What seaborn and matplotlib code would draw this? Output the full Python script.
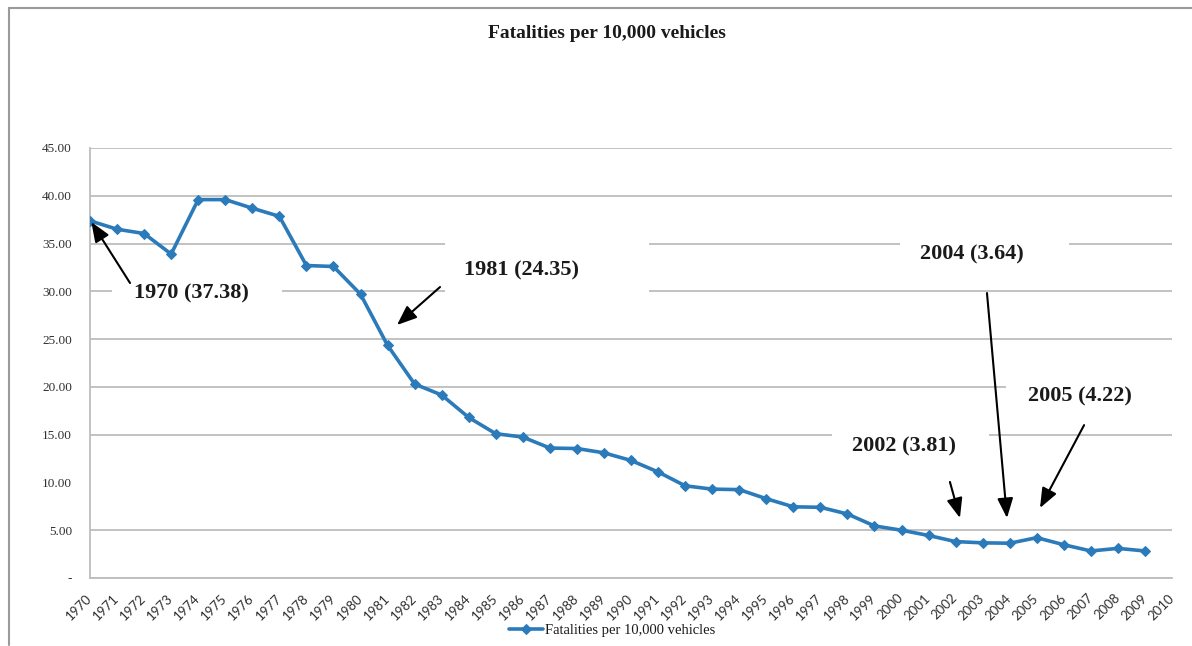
import matplotlib
matplotlib.use("Agg")
import matplotlib.pyplot as plt
from matplotlib.patches import Rectangle
from matplotlib.lines import Line2D
import seaborn as sns
import pandas as pd

# ---------------- data ----------------
years = list(range(1970, 2010))
fatalities = [37.38, 36.50, 36.05, 33.90, 39.60, 39.60, 38.70, 37.85, 32.70, 32.60,
              29.70, 24.35, 20.30, 19.15, 16.80, 15.10, 14.75, 13.60, 13.55, 13.10,
              12.30, 11.10, 9.65, 9.30, 9.25, 8.30, 7.45, 7.40, 6.70, 5.45,
              5.00, 4.45, 3.81, 3.68, 3.64, 4.22, 3.48, 2.83, 3.10, 2.83]
series_name = "Fatalities per 10,000 vehicles"
title = "Fatalities per 10,000 vehicles"
x_ticks = list(range(1970, 2011))
x_tick_labels = [str(y) for y in x_ticks]
y_ticks = [0, 5, 10, 15, 20, 25, 30, 35, 40, 45]
y_tick_labels = ["-", "5.00", "10.00", "15.00", "20.00", "25.00", "30.00", "35.00", "40.00", "45.00"]

# annotations: label, text position, arrow tail, arrow tip
ann_labels = ["1970 (37.38)", "1981 (24.35)", "2004 (3.64)", "2005 (4.22)", "2002 (3.81)"]
ann_text_xy = [(1973.75, 29.8), (1985.95, 32.2), (2002.6, 33.9), (2006.6, 18.95), (2000.1, 13.8)]
ann_tail_xy = [(1971.48, 30.87), (1982.94, 30.45), (2003.16, 29.82), (2006.75, 16.0), (2001.79, 10.05)]
ann_tip_xy = [(1970.05, 37.25), (1981.35, 26.48), (2003.9, 6.28), (2005.12, 7.33), (2002.16, 6.28)]
# white text-box areas (x0, x1, y0, y1) hiding gridlines
box_areas = [(1970.81, 1977.1, 27, 33), (1983.12, 1990.67, 28, 37.5),
             (1999.94, 2006.19, 32, 38), (2003.86, 2010.5, 17, 23),
             (1997.43, 2003.23, 12, 18), (1969.5, 2010.5, 9, 11)]

df = pd.DataFrame({"year": years, "value": fatalities})

# ---------------- style ----------------
sns.set_style("white")
plt.rcParams["font.family"] = ["Liberation Serif", "DejaVu Serif"]

fig = plt.figure(figsize=(11.92, 6.46), dpi=100)
ax = fig.add_axes([90 / 1192, 1 - 578 / 646, (1172 - 90) / 1192, (578 - 148) / 646])

line_color = "#2B7BBA"
grid_color = "#BDBDBD"

sns.lineplot(data=df, x="year", y="value", ax=ax, color=line_color, linewidth=2.6,
             marker="D", markersize=5.5, markeredgecolor=line_color,
             label=series_name, zorder=4)

ax.set_xlim(1970, 2010)
ax.set_ylim(0, 45)
ax.set_xticks(x_ticks)
ax.set_xticklabels(x_tick_labels, rotation=45, ha="right", va="center",
                   rotation_mode="anchor", fontsize=9.5, family=["Lato", "DejaVu Sans"],
                   color="#303030")
ax.set_yticks(y_ticks)
ax.set_yticklabels(y_tick_labels, fontsize=9.5, color="#303030")
ax.set_xlabel("")
ax.set_ylabel("")

ax.set_axisbelow(True)
ax.yaxis.grid(True, color=grid_color, linewidth=1.3)
ax.xaxis.grid(False)
for s in ["top", "right"]:
    ax.spines[s].set_visible(False)
for s in ["left", "bottom"]:
    ax.spines[s].set_color(grid_color)
    ax.spines[s].set_linewidth(1.3)
ax.tick_params(axis="x", direction="out", length=5, width=1.2, color=grid_color, pad=8)
ax.tick_params(axis="y", length=0, pad=13)

# white text-box areas
for (x0, x1, y0, y1) in box_areas:
    ax.add_patch(Rectangle((x0, y0), x1 - x0, y1 - y0, facecolor="white",
                           edgecolor="none", zorder=1, clip_on=True))

# annotations
for lab, txy, tail, tip in zip(ann_labels, ann_text_xy, ann_tail_xy, ann_tip_xy):
    ax.text(txy[0], txy[1], lab, ha="center", va="center", fontsize=16,
            fontweight="bold", color="#1a1a1a", zorder=6)
    ax.annotate("", xy=tip, xytext=tail,
                arrowprops=dict(arrowstyle="-|>,head_length=1.0,head_width=0.4",
                                mutation_scale=12,
                                color="black", lw=1.5, shrinkA=0, shrinkB=0),
                zorder=6, annotation_clip=False)

# title
fig.text(607 / 1192, 1 - 33 / 646, title, ha="center", va="center",
         fontsize=14, fontweight="bold", color="#1a1a1a")

# legend
leg = ax.legend(loc="center", bbox_to_anchor=(612 / 1192, 1 - 630 / 646),
                bbox_transform=fig.transFigure, frameon=False, fontsize=10.5,
                handlelength=2.3, handletextpad=0.15, borderpad=0)
for t in leg.get_texts():
    t.set_color("#1a1a1a")

# figure border lines (top and left)
fig.add_artist(Line2D([9 / 1192, 1.0], [1 - 8 / 646, 1 - 8 / 646], color="#9a9a9a",
                      lw=1.5, transform=fig.transFigure))
fig.add_artist(Line2D([9 / 1192, 9 / 1192], [1 - 8 / 646, 1 - 645 / 646], color="#9a9a9a",
                      lw=1.5, transform=fig.transFigure))

fig.savefig("out.png", dpi=100, facecolor="white")
